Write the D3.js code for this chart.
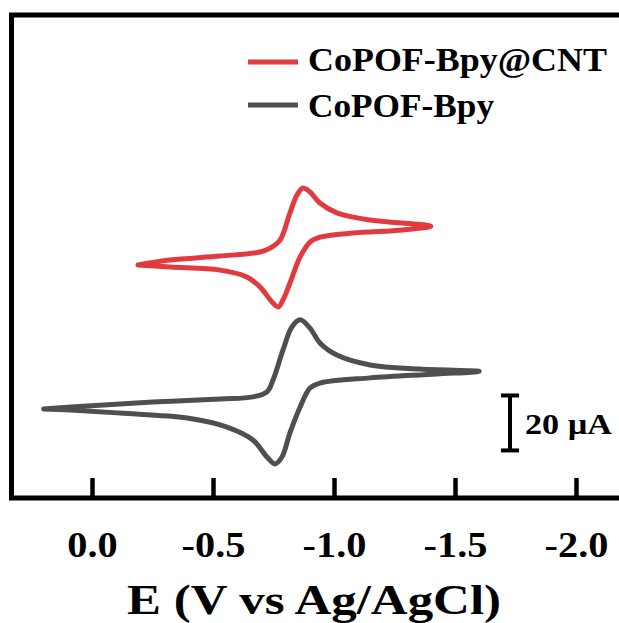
<!DOCTYPE html>
<html>
<head>
<meta charset="utf-8">
<script src="https://cdn.jsdelivr.net/npm/d3@7"></script>
<style>
  html, body { margin: 0; padding: 0; background: #fff; }
  svg { display: block; }
  text { font-family: "Liberation Serif", "Times New Roman", serif; font-weight: bold; fill: #000; }
</style>
</head>
<body>
<svg id="chart" width="619" height="623"></svg>
<script>
// Cyclic voltammograms: forward sweep (toward negative potential) then reverse sweep.
// Potential in V vs Ag/AgCl, current in µA.
const grayE = [0.20, 0.02, -0.25, -0.53, -0.665, -0.723, -0.748, -0.789, -0.826, -0.86, -0.901, -0.942, -1.012, -1.149, -1.355, -1.60,
               -1.426, -1.149, -0.942, -0.901, -0.86, -0.818, -0.785, -0.756, -0.723, -0.665, -0.558, -0.393, -0.116, 0.091, 0.20];
const grayI = [-6.9, -5.8, -4.4, -3.3, -2.5, -0.7, 3.6, 14.5, 22.9, 25.5, 22.5, 17.1, 12.7, 9.1, 7.6, 6.8,
               5.8, 4.4, 2.5, 0.7, -6.2, -15.6, -24.4, -26.9, -24.4, -18.2, -13.5, -10.2, -8.4, -7.3, -6.9];

const redE = [-0.19, -0.322, -0.529, -0.694, -0.736, -0.777, -0.818, -0.847, -0.872, -0.901, -0.942, -1.012, -1.149, -1.285, -1.40,
              -1.285, -1.079, -0.942, -0.901, -0.86, -0.818, -0.789, -0.769, -0.744, -0.694, -0.64, -0.529, -0.322, -0.19];
const redI = [-4.5, -2.7, -1.3, 0.2, 1.6, 4.5, 14.4, 20.9, 23.5, 22.0, 18.0, 14.4, 11.8, 10.7, 9.6,
              8.2, 7.1, 5.6, 3.8, -1.6, -11.1, -17.3, -19.8, -18.0, -12.5, -8.9, -6.4, -5.3, -4.5];

// vertical stacking offset of the upper trace (µA)
const redOffset = 50;

const potentialTicks = [0, -0.5, -1.0, -1.5, -2.0];
const tickLabels = ["0.0", "-0.5", "-1.0", "-1.5", "-2.0"];

const seriesNames = ["CoPOF-Bpy@CNT", "CoPOF-Bpy"];
const seriesColors = ["#e23b3f", "#4f4f4f"];

const scaleBarValue = 20;        // µA
const scaleBarLabel = "20 µA";
const xTitle = "E (V vs Ag/AgCl)";

const svg = d3.select("#chart");

const frame = { left: 11.5, top: 15, right: 640, bottom: 498 };

const x = d3.scaleLinear().domain([0, -2]).range([92, 576]);
const y = d3.scaleLinear().domain([-39.3, 136.4]).range([frame.bottom, frame.top]);

// widen a text element horizontally by a factor
function stretch(sel, factor) {
  sel.each(function () {
    const w = this.getComputedTextLength();
    d3.select(this).attr("textLength", w * factor).attr("lengthAdjust", "spacingAndGlyphs");
  });
}

const line = d3.line()
  .x(d => x(d[0]))
  .y(d => y(d[1]))
  .curve(d3.curveCatmullRom.alpha(0.5));

const grayPts = grayE.map((e, i) => [e, grayI[i]]);
const redPts = redE.map((e, i) => [e, redI[i] + redOffset]);

svg.append("path")
  .attr("d", line(grayPts))
  .attr("fill", "none")
  .attr("stroke", seriesColors[1])
  .attr("stroke-width", 5)
  .attr("stroke-linejoin", "round")
  .attr("stroke-linecap", "round");

svg.append("path")
  .attr("d", line(redPts))
  .attr("fill", "none")
  .attr("stroke", seriesColors[0])
  .attr("stroke-width", 5)
  .attr("stroke-linejoin", "round")
  .attr("stroke-linecap", "round");

// frame (right side runs past the edge)
svg.append("rect")
  .attr("x", frame.left).attr("y", frame.top)
  .attr("width", frame.right - frame.left)
  .attr("height", frame.bottom - frame.top)
  .attr("fill", "none")
  .attr("stroke", "#000")
  .attr("stroke-width", 5);

// bottom axis with inward ticks
const xAxis = d3.axisBottom(x)
  .tickValues(potentialTicks)
  .tickFormat((d, i) => tickLabels[i])
  .tickSizeInner(-20)
  .tickSizeOuter(0)
  .tickPadding(0);

const gx = svg.append("g")
  .attr("transform", `translate(0,${frame.bottom})`)
  .call(xAxis);
gx.select(".domain").remove();
gx.selectAll(".tick line").attr("stroke", "#000").attr("stroke-width", 4.5);
gx.selectAll(".tick text")
  .attr("y", 59)
  .attr("dy", null)
  .style("font-size", "36px")
  .style("font-family", "'Liberation Serif', 'Times New Roman', serif")
  .style("font-weight", "bold")
  .attr("fill", "#000")
  .call(stretch, 1.12);

// axis title
svg.append("text")
  .attr("x", 314).attr("y", 614)
  .attr("text-anchor", "middle")
  .style("font-size", "42px")
  .attr("textLength", 374)
  .attr("lengthAdjust", "spacingAndGlyphs")
  .text(xTitle);

// legend
const legendLineY = [62, 105];
const legendTextY = [71, 117];
const legendTextW = [299, 186];
seriesNames.forEach((name, i) => {
  svg.append("line")
    .attr("x1", 248).attr("x2", 298)
    .attr("y1", legendLineY[i]).attr("y2", legendLineY[i])
    .attr("stroke", seriesColors[i])
    .attr("stroke-width", 5);
  svg.append("text")
    .attr("x", 308).attr("y", legendTextY[i])
    .style("font-size", "33px")
    .attr("textLength", legendTextW[i])
    .attr("lengthAdjust", "spacingAndGlyphs")
    .text(name);
});

// current scale bar
const sbX = 510;
const sbTop = y(-2), sbBot = y(-2 - scaleBarValue);
const sb = svg.append("g").attr("stroke", "#000").attr("stroke-width", 4);
sb.append("line").attr("x1", sbX).attr("x2", sbX).attr("y1", sbTop).attr("y2", sbBot);
sb.append("line").attr("x1", sbX - 9).attr("x2", sbX + 9).attr("y1", sbTop).attr("y2", sbTop);
sb.append("line").attr("x1", sbX - 9).attr("x2", sbX + 9).attr("y1", sbBot).attr("y2", sbBot);
svg.append("text")
  .attr("x", 525).attr("y", (sbTop + sbBot) / 2 + 11)
  .style("font-size", "30px")
  .attr("textLength", 87)
  .attr("lengthAdjust", "spacingAndGlyphs")
  .text(scaleBarLabel);
</script>
</body>
</html>
